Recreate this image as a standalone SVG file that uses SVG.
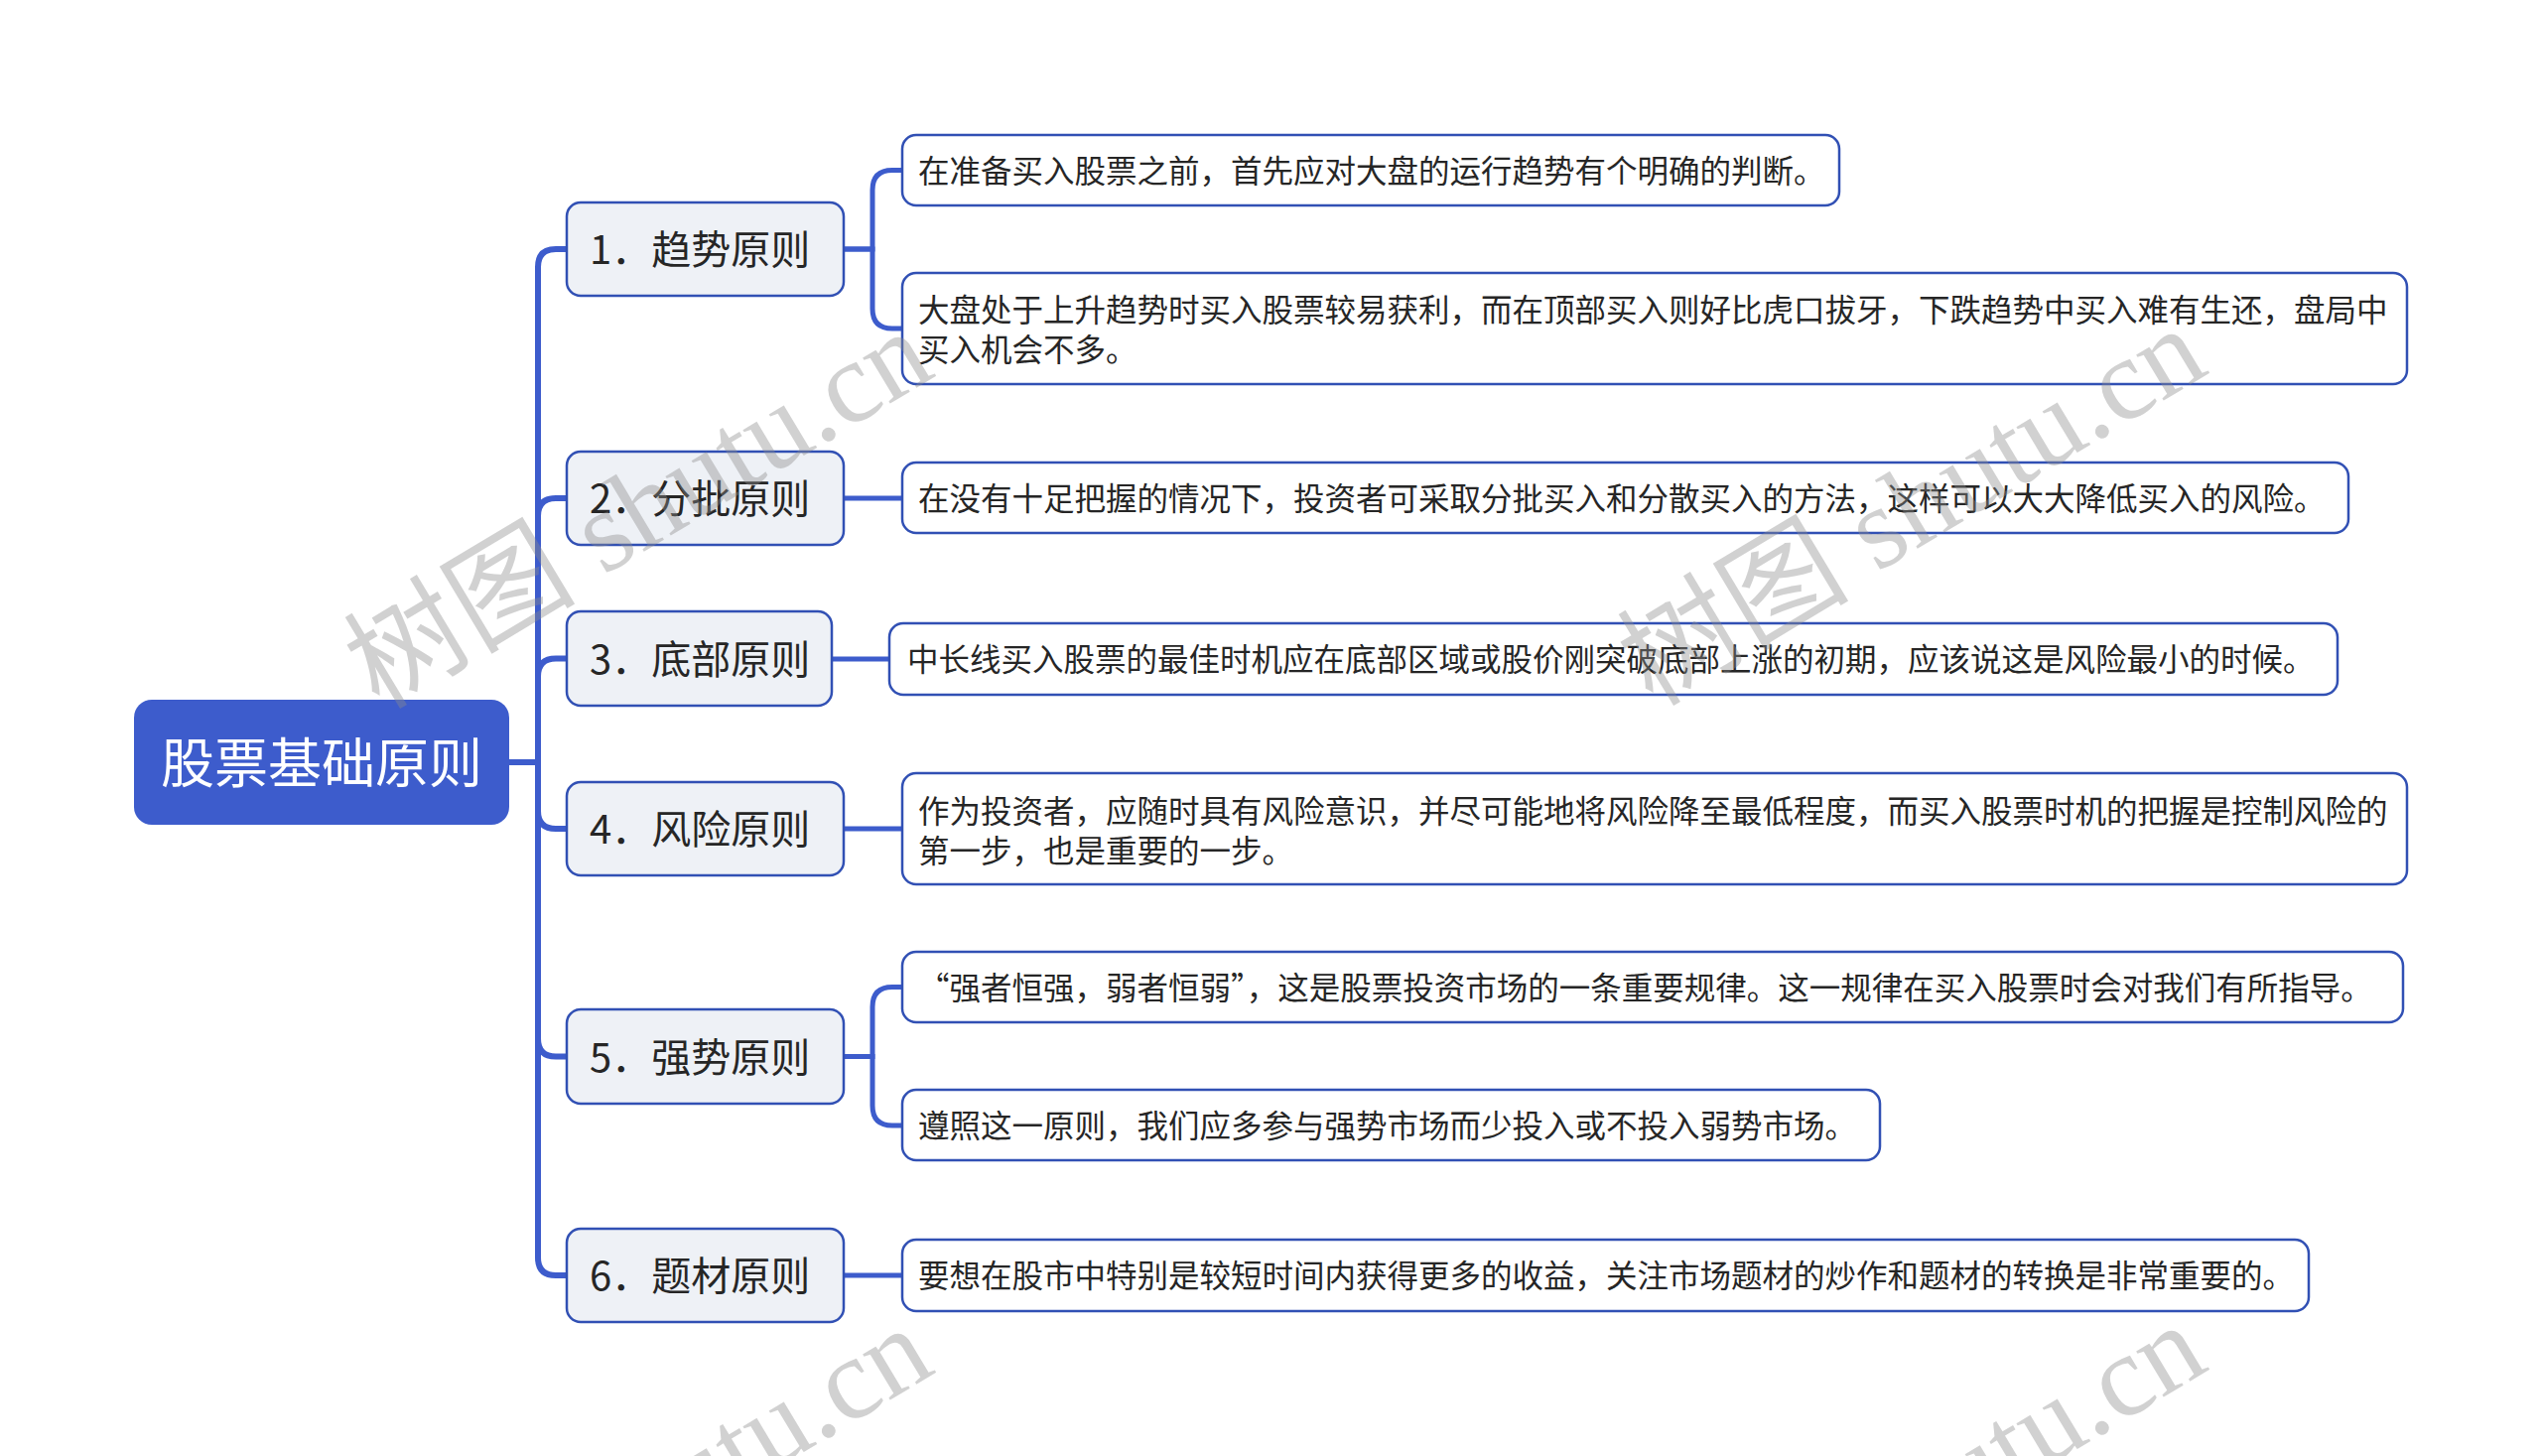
<svg xmlns="http://www.w3.org/2000/svg" width="2560" height="1467" viewBox="0 0 2560 1467">
<style>
.bg{fill:#ffffff}
.root rect{fill:#3d5ccc}
.root text{fill:#ffffff;font-family:"Noto Sans CJK SC","Noto Sans",sans-serif;font-size:54px}
.main rect{fill:#eef1f6;stroke:#3150b4;stroke-width:2.5}
.main text{fill:#262626;font-family:"Noto Sans CJK SC","Noto Sans",sans-serif;font-size:40px}
.leaf rect{fill:#ffffff;stroke:#3150b4;stroke-width:2.5}
.leaf text{fill:#262626;font-family:"Noto Sans CJK SC","Noto Sans",sans-serif;font-size:31.5px}
.conn path{fill:none;stroke:#3d5ccc;stroke-width:6}
.conn path.lf{stroke-width:5}
.wm{font-family:"Liberation Serif","Noto Sans CJK SC",serif;font-size:117px;fill:#8c8c8c;fill-opacity:0.4}
</style>
<rect class="bg" x="0" y="0" width="2560" height="1467"/>
<g id="connectors" class="conn">
  <path d="M513,768 H542 V269 Q542,251 560,251 H571"/>
  <path d="M513,768 H542 V520 Q542,502 560,502 H571"/>
  <path d="M513,768 H542 V681.5 Q542,663.5 560,663.5 H571"/>
  <path d="M513,768 H542 V817 Q542,835 560,835 H571"/>
  <path d="M513,768 H542 V1046.5 Q542,1064.5 560,1064.5 H571"/>
  <path d="M513,768 H542 V1267 Q542,1285 560,1285 H571"/>
  <path class="lf" d="M850,251 H879 V191.5 Q879,171.5 899,171.5 H909"/>
  <path class="lf" d="M850,251 H879 V311 Q879,331 899,331 H909"/>
  <path class="lf" d="M850,502 H909"/>
  <path class="lf" d="M838,664 H896"/>
  <path class="lf" d="M850,835 H909"/>
  <path class="lf" d="M850,1064.5 H879 V1014.5 Q879,994.5 899,994.5 H909"/>
  <path class="lf" d="M850,1064.5 H879 V1114 Q879,1134 899,1134 H909"/>
  <path class="lf" d="M850,1285 H909"/>
</g>
<g id="root" class="root">
  <rect x="135" y="705" width="378" height="126" rx="18"/>
  <text x="324" y="788.5" text-anchor="middle">股票基础原则</text>
</g>
<g id="n1" class="main">
  <rect x="571" y="204" width="279" height="94" rx="14"/>
  <text x="594" y="266">1．趋势原则</text>
</g>
<g id="n2" class="main">
  <rect x="571" y="455" width="279" height="94" rx="14"/>
  <text x="594" y="517">2．分批原则</text>
</g>
<g id="n3" class="main">
  <rect x="571" y="616" width="267" height="95" rx="14"/>
  <text x="594" y="678.5">3．底部原则</text>
</g>
<g id="n4" class="main">
  <rect x="571" y="788" width="279" height="94" rx="14"/>
  <text x="594" y="850">4．风险原则</text>
</g>
<g id="n5" class="main">
  <rect x="571" y="1017" width="279" height="95" rx="14"/>
  <text x="594" y="1079.5">5．强势原则</text>
</g>
<g id="n6" class="main">
  <rect x="571" y="1238" width="279" height="94" rx="14"/>
  <text x="594" y="1300">6．题材原则</text>
</g>
<g id="l1a" class="leaf">
  <rect x="909" y="136" width="944" height="71" rx="14"/>
  <text x="925" y="183.5">在准备买入股票之前，首先应对大盘的运行趋势有个明确的判断。</text>
</g>
<g id="l1b" class="leaf">
  <rect x="909" y="275" width="1516" height="112" rx="14"/>
  <text x="925" y="323.5">大盘处于上升趋势时买入股票较易获利，而在顶部买入则好比虎口拔牙，下跌趋势中买入难有生还，盘局中</text>
  <text x="925" y="364">买入机会不多。</text>
</g>
<g id="l2" class="leaf">
  <rect x="909" y="466" width="1457" height="71" rx="14"/>
  <text x="925" y="513.5">在没有十足把握的情况下，投资者可采取分批买入和分散买入的方法，这样可以大大降低买入的风险。</text>
</g>
<g id="l3" class="leaf">
  <rect x="896" y="628" width="1459" height="72" rx="14"/>
  <text x="914" y="676">中长线买入股票的最佳时机应在底部区域或股价刚突破底部上涨的初期，应该说这是风险最小的时候。</text>
</g>
<g id="l4" class="leaf">
  <rect x="909" y="779" width="1516" height="112" rx="14"/>
  <text x="925" y="829">作为投资者，应随时具有风险意识，并尽可能地将风险降至最低程度，而买入股票时机的把握是控制风险的</text>
  <text x="925" y="869">第一步，也是重要的一步。</text>
</g>
<g id="l5a" class="leaf">
  <rect x="909" y="959" width="1512" height="71" rx="14"/>
  <text x="925" y="1006.5">“强者恒强，弱者恒弱”，这是股票投资市场的一条重要规律。这一规律在买入股票时会对我们有所指导。</text>
</g>
<g id="l5b" class="leaf">
  <rect x="909" y="1098" width="985" height="71" rx="14"/>
  <text x="925" y="1146">遵照这一原则，我们应多参与强势市场而少投入或不投入弱势市场。</text>
</g>
<g id="l6" class="leaf">
  <rect x="909" y="1249" width="1417" height="72" rx="14"/>
  <text x="925" y="1297">要想在股市中特别是较短时间内获得更多的收益，关注市场题材的炒作和题材的转换是非常重要的。</text>
</g>
<g id="watermark">
  <text class="wm" text-anchor="middle" dominant-baseline="central" transform="translate(643,513) rotate(-31)">树图 shutu.cn</text>
  <text class="wm" text-anchor="middle" dominant-baseline="central" transform="translate(1926,510) rotate(-31)">树图 shutu.cn</text>
  <text class="wm" text-anchor="middle" dominant-baseline="central" transform="translate(643,1517) rotate(-31)">树图 shutu.cn</text>
  <text class="wm" text-anchor="middle" dominant-baseline="central" transform="translate(1926,1514) rotate(-31)">树图 shutu.cn</text>
</g>
</svg>
